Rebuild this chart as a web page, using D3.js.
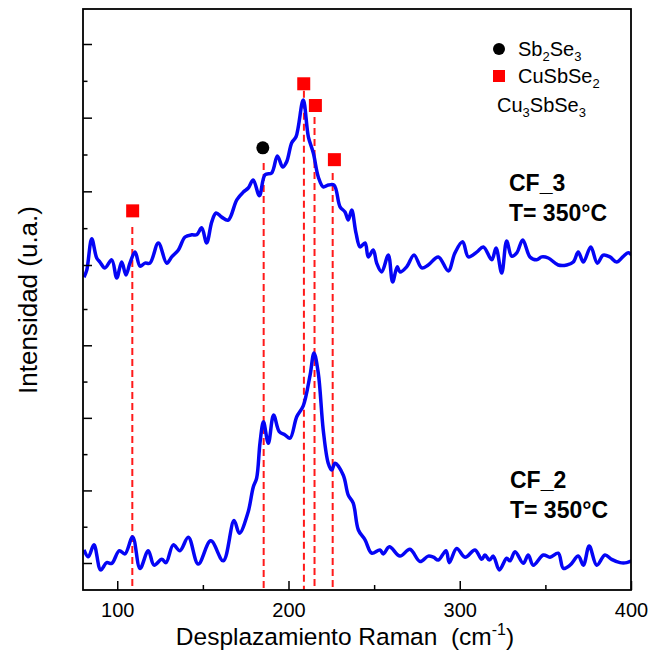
<!DOCTYPE html>
<html>
<head>
<meta charset="utf-8">
<script src="https://cdn.jsdelivr.net/npm/d3@7"></script>
<style>
body { margin: 0; background: #fff; }
text { font-family: "Liberation Sans", Arial, sans-serif; fill: #000; }
</style>
</head>
<body>
<svg id="chart" width="649" height="653"></svg>
<script>
// Raman spectra, wavenumber (cm-1) and intensity in panel units
var cf3X = [80.6,82.2,85.1,88.0,89.9,92.8,96.8,99.7,102.6,105.1,107.4,110.4,113.3,116.2,119.1,124.0,128.9,131.8,135.7,139.6,
	143.5,146.4,149.3,152.2,155.2,157.7,161.0,164.8,169.8,173.6,176.5,179.4,183.0,186.3,190.2,193.5,196.6,198.9,201.9,204.4,
	208.6,211.6,214.5,217.4,220.3,223.2,226.6,230.1,233.0,234.9,236.9,239.4,241.8,244.7,246.6,249.5,251.5,254.4,258.3,260.8,
	263.5,265.1,269.0,273.3,277.8,281.6,287.5,293.3,297.2,301.7,305.0,309.9,313.8,318.7,321.2,324.5,327.4,330.3,333.3,336.8,
	341.0,344.9,347.9,351.7,357.5,362.5,366.3,369.2,372.2,376.5,380.3,383.8,387.7,391.6,395.2,398.4,400.4];
var cf3Y = [-0.33,-0.14,0.71,0.19,0.08,-0.08,0.14,-0.35,0.08,-0.27,0.05,0.35,-0.03,0.05,0.05,0.60,0.05,0.22,0.41,0.76,
	0.82,0.82,1.01,0.60,1.17,1.41,1.30,1.22,1.77,1.98,2.09,2.31,1.88,2.45,2.50,2.96,2.66,2.80,3.32,3.48,
	4.48,3.48,3.04,2.39,2.12,2.17,2.17,1.58,1.44,1.22,1.49,0.87,0.49,0.60,0.22,0.41,0.05,-0.19,0.27,-0.46,
	-0.05,-0.19,-0.05,0.27,-0.08,0.00,0.22,-0.16,0.33,0.63,0.22,0.35,0.49,0.14,0.46,-0.22,0.65,0.24,0.33,0.68,
	0.22,0.14,0.22,0.19,0.00,0.00,0.08,0.35,0.08,0.49,0.05,0.27,0.22,0.08,0.22,0.33,0.27];

var cf2X = [80.6,83.1,86.4,90.3,93.8,96.8,101.2,104.5,109.0,113.3,118.1,121.5,126.0,128.5,132.7,136.6,141.5,147.3,154.6,161.9,
	168.2,171.3,176.4,179.4,181.4,183.4,185.4,188.2,191.3,194.6,198.0,200.9,204.8,208.6,212.6,214.9,217.4,220.3,223.2,225.2,
	227.2,232.0,234.9,237.8,240.8,244.7,248.6,253.4,255.4,258.9,265.1,270.9,276.8,281.6,284.6,287.5,292.0,293.9,298.2,303.1,
	308.9,312.8,314.7,317.3,319.6,323.1,327.4,329.3,332.3,337.1,340.0,342.9,348.8,352.7,357.5,360.5,364.4,369.2,372.2,375.6,
	380.0,384.8,388.7,393.6,397.5,400.4];
var cf2Y = [0.36,0.17,0.50,-0.19,0.01,-0.01,0.34,0.25,0.72,-0.15,0.34,-0.06,0.10,0.01,0.50,0.34,0.71,-0.03,0.61,0.06,
	1.17,0.82,1.40,2.09,2.34,3.33,3.89,3.30,4.08,3.62,3.53,3.44,4.03,4.33,5.18,5.79,5.23,3.66,2.75,2.56,
	2.75,2.42,1.87,1.65,0.91,0.64,0.27,0.36,0.25,0.45,0.19,0.38,0.04,0.19,0.16,0.08,0.34,0.01,0.40,0.16,
	0.36,0.10,0.22,0.08,0.19,-0.19,0.13,0.06,0.31,-0.01,0.22,-0.06,0.22,0.16,0.27,-0.15,-0.06,0.19,-0.06,0.47,
	-0.06,0.22,0.10,0.01,0.01,0.06];

// phase markers (top panel units)
var sbSeX = [185.0];
var sbSeY = [3.18];
var cuSbSeX = [109.0, 208.9, 215.7, 226.8];
var cuSbSeY = [1.47, 4.92, 4.33, 2.86];

// dashed reference lines: position and where they start (top panel units)
var refX = [108.8, 185.5, 209.0, 215.2, 225.8];
var refTop = [1.03, 2.77, 4.73, 4.02, 2.50];

var xMajor = [100, 200, 300, 400];
var xMinor = [150, 250, 350];

var svg = d3.select("#chart"),
	pLeft = 83, pRight = 631, pTop = 9, pBottom = 590;

var x = d3.scaleLinear().domain([80, 400]).range([pLeft, pRight]);
var yTop = d3.scaleLinear().domain([0, 6]).range([265, 44]);
var yBot = d3.scaleLinear().domain([0, 7]).range([563, 309]);

svg.append("defs").append("clipPath").attr("id", "plotclip")
	.append("rect").attr("x", pLeft).attr("y", pTop).attr("width", pRight - pLeft).attr("height", pBottom - pTop);

// dashed lines
svg.append("g").selectAll("line").data(refX).join("line")
	.attr("x1", function(d) { return x(d); })
	.attr("x2", function(d) { return x(d); })
	.attr("y1", function(d, i) { return yTop(refTop[i]); })
	.attr("y2", pBottom)
	.attr("stroke", "#ff1a1a")
	.attr("stroke-width", 2)
	.attr("stroke-dasharray", "7,4");

// spectra
var line = d3.line().curve(d3.curveCatmullRom.alpha(0.5));
var spectra = svg.append("g").attr("clip-path", "url(#plotclip)");
spectra.append("path")
	.attr("d", line(cf3X.map(function(v, i) { return [x(v), yTop(cf3Y[i])]; })))
	.attr("fill", "none").attr("stroke", "#0505f5").attr("stroke-width", 3.5).attr("stroke-linejoin", "round");
spectra.append("path")
	.attr("d", line(cf2X.map(function(v, i) { return [x(v), yBot(cf2Y[i])]; })))
	.attr("fill", "none").attr("stroke", "#0505f5").attr("stroke-width", 3.5).attr("stroke-linejoin", "round");

// markers
svg.append("g").selectAll("rect").data(cuSbSeX).join("rect")
	.attr("x", function(d) { return x(d) - 6.5; })
	.attr("y", function(d, i) { return yTop(cuSbSeY[i]) - 6.5; })
	.attr("width", 13).attr("height", 13)
	.attr("fill", "#ff0000");
svg.append("g").selectAll("circle").data(sbSeX).join("circle")
	.attr("cx", function(d) { return x(d); })
	.attr("cy", function(d, i) { return yTop(sbSeY[i]); })
	.attr("r", 6.5)
	.attr("fill", "#000");

// axes
function styleAxis(g) {
	g.select(".domain").remove();
	g.selectAll(".tick line").attr("stroke", "#000").attr("stroke-width", 1.5);
}
svg.append("g").attr("transform", "translate(0," + pBottom + ")")
	.call(d3.axisBottom(x).tickValues(xMajor).tickSize(-9).tickPadding(13))
	.call(styleAxis)
	.call(function(g) {
		g.selectAll("text").attr("font-size", 20).attr("fill", "#000")
			.style("font-family", "'Liberation Sans', Arial, sans-serif");
	});
svg.append("g").attr("transform", "translate(0," + pBottom + ")")
	.call(d3.axisBottom(x).tickValues(xMinor).tickSize(-5).tickFormat(""))
	.call(styleAxis);

[[yTop, [0, 2, 4, 6], [1, 3, 5]], [yBot, [0, 2, 4, 6], [1, 3, 5, 7]]].forEach(function(a) {
	svg.append("g").attr("transform", "translate(" + pLeft + ",0)")
		.call(d3.axisLeft(a[0]).tickValues(a[1]).tickSize(-9).tickFormat(""))
		.call(styleAxis);
	svg.append("g").attr("transform", "translate(" + pLeft + ",0)")
		.call(d3.axisLeft(a[0]).tickValues(a[2]).tickSize(-4.5).tickFormat(""))
		.call(styleAxis);
});

// frame
svg.append("rect")
	.attr("x", pLeft).attr("y", pTop).attr("width", pRight - pLeft).attr("height", pBottom - pTop)
	.attr("fill", "none").attr("stroke", "#000").attr("stroke-width", 1.8);

// axis titles
var xt = svg.append("text").attr("x", (pLeft + pRight) / 2 - 12).attr("y", 645)
	.attr("text-anchor", "middle").attr("font-size", 24.5);
xt.append("tspan").text("Desplazamiento Raman\u00a0 (cm");
xt.append("tspan").attr("font-size", 16).attr("dy", -10).text("-1");
xt.append("tspan").attr("dy", 10).text(")");

svg.append("text")
	.attr("transform", "translate(37,300) rotate(-90)")
	.attr("text-anchor", "middle").attr("font-size", 26)
	.text("Intensidad (u.a.)");

// legend
svg.append("circle").attr("cx", 499).attr("cy", 49).attr("r", 6).attr("fill", "#000");
svg.append("rect").attr("x", 493).attr("y", 70).attr("width", 12).attr("height", 12).attr("fill", "#ff0000");

function chem(xp, yp, parts) {
	var t = svg.append("text").attr("x", xp).attr("y", yp).attr("font-size", 20);
	var low = false;
	parts.forEach(function(p) {
		var sub = /^[0-9]$/.test(p);
		var dy = sub && !low ? 5 : (!sub && low ? -5 : 0);
		t.append("tspan").attr("dy", dy).attr("font-size", sub ? 13 : 20).text(p);
		low = sub;
	});
}
chem(518, 56, ["Sb", "2", "Se", "3"]);
chem(518, 83, ["CuSbSe", "2"]);
chem(497, 112, ["Cu", "3", "SbSe", "3"]);

// sample labels
function sampleLabel(xp, yp, name) {
	svg.append("text").attr("x", xp).attr("y", yp).attr("font-size", 23).attr("font-weight", "bold").text(name);
	svg.append("text").attr("x", xp).attr("y", yp + 30).attr("font-size", 23).attr("font-weight", "bold").text("T= 350°C");
}
sampleLabel(509, 191, "CF_3");
sampleLabel(510, 488, "CF_2");
</script>
</body>
</html>
